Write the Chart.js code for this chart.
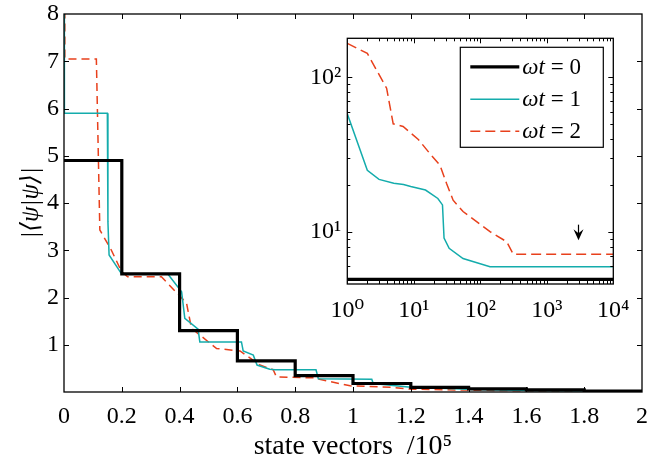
<!DOCTYPE html>
<html>
<head>
<meta charset="utf-8">
<script src="https://cdn.jsdelivr.net/npm/chart.js@4.4.0/dist/chart.umd.min.js"></script>
<style>
  html, body { margin: 0; padding: 0; background: #fff; }
  #wrap { position: relative; width: 653px; height: 461px; }
  #main { position: absolute; left: 0; top: 0; }
  #inset { position: absolute; left: 290px; top: 20px; }
</style>
</head>
<body>
<div id="wrap">
  <canvas id="main" width="653" height="461"></canvas>
  <canvas id="inset" width="345" height="305"></canvas>
</div>
<script>
// ---- main panel: x in units of 1e5 state vectors ----
const mainBlackX = [0, 0.2, 0.4, 0.6, 0.8, 1.0, 1.2, 1.4, 1.6, 1.8, 2.0];
const mainBlackY = [4.9, 2.5, 1.3, 0.66, 0.345, 0.18, 0.1, 0.065, 0.045, 0.02, 0.02];

const mainCyanX = [0, 0.0014, 0.150, 0.152, 0.156, 0.199, 0.36, 0.407, 0.418, 0.464, 0.47, 0.614, 0.62,
                   0.655, 0.668, 0.712, 0.73, 0.872, 0.88, 1.065, 1.07, 1.2, 1.4, 1.6, 2.0];
const mainCyanY = [58, 5.9, 5.9, 3.6, 2.9, 2.5, 2.49, 2.12, 1.56, 1.33, 1.06, 1.06, 0.87,
                   0.78, 0.57, 0.48, 0.47, 0.47, 0.28, 0.27, 0.18, 0.1, 0.06, 0.03, 0.015];

const mainRedX = [0, 0.003, 0.112, 0.124, 0.164, 0.199, 0.22, 0.337, 0.424, 0.441, 0.528, 0.609,
                  0.678, 0.724, 0.735, 0.862, 0.99, 1.13, 1.2, 1.4, 1.6, 1.775];
const mainRedY = [166, 7.05, 7.05, 3.43, 3.0, 2.55, 2.44, 2.44, 1.88, 1.35, 0.92, 0.87,
                  0.57, 0.47, 0.32, 0.3, 0.13, 0.1, 0.06, 0.04, 0.025, 0.02];

const mainXTicks = [0, 0.2, 0.4, 0.6, 0.8, 1, 1.2, 1.4, 1.6, 1.8, 2];
const mainYTicks = [1, 2, 3, 4, 5, 6, 7, 8];

// ---- inset: log-log, x in state vectors ----
const insetBlackX = [1, 10000];
const insetBlackY = [4.9, 4.9];

const insetCyanX = [1, 2, 3, 5, 7, 9, 15, 23, 27, 28.5, 34, 55, 140, 10000];
const insetCyanY = [58, 25, 21.8, 20.6, 20.2, 19.6, 18.6, 16.4, 14.9, 9.1, 7.8, 6.7, 5.93, 5.93];

const insetRedX = [1, 2, 3.9, 4.9, 6.9, 11.7, 17.5, 24.7, 31, 39, 55, 88, 140, 250, 313, 10000];
const insetRedY = [166, 143, 85, 50, 48, 39.6, 32, 27, 20.6, 16, 13.5, 11.6, 10, 8.6, 7.13, 7.13];

const insetXTicks = [1, 10, 100, 1000, 10000];
const insetYTicks = [10, 100];

const seriesLabels = ['ωt = 0', 'ωt = 1', 'ωt = 2'];
const BLACK = '#000000', CYAN = '#14acac', RED = '#e8401c';
const SERIF = '"Liberation Serif", "DejaVu Serif", serif';
const SUP = ['⁰', '¹', '²', '³', '⁴'];

const pts = (xs, ys) => xs.map((x, i) => ({ x, y: ys[i] }));

function minorLog(min, max) {
  const out = [];
  for (let d = Math.floor(Math.log10(min)); d <= Math.ceil(Math.log10(max)); d++)
    for (let m = 2; m <= 9; m++) {
      const v = m * Math.pow(10, d);
      if (v > min && v < max) out.push(v);
    }
  return out;
}

// inward tick marks on all four sides + box frame
const axesBox = {
  id: 'axesBox',
  afterDatasetsDraw(chart, args, o) {
    const { ctx, chartArea: a, scales: { x, y } } = chart;
    ctx.save();
    ctx.strokeStyle = '#000';
    ctx.lineWidth = 1;
    ctx.beginPath();
    const xt = (vals, len) => vals.forEach(v => {
      const px = Math.round(x.getPixelForValue(v)) + 0.5;
      ctx.moveTo(px, a.bottom); ctx.lineTo(px, a.bottom - len);
      ctx.moveTo(px, a.top); ctx.lineTo(px, a.top + len);
    });
    const yt = (vals, len) => vals.forEach(v => {
      const py = Math.round(y.getPixelForValue(v)) + 0.5;
      ctx.moveTo(a.left, py); ctx.lineTo(a.left + len, py);
      ctx.moveTo(a.right, py); ctx.lineTo(a.right - len, py);
    });
    xt(o.xMajor, o.len); yt(o.yMajor, o.len);
    if (o.xMinor) xt(o.xMinor, o.minorLen);
    if (o.yMinor) yt(o.yMinor, o.minorLen);
    ctx.stroke();
    ctx.lineWidth = 1.3;
    ctx.strokeRect(a.left, a.top, a.right - a.left, a.bottom - a.top);
    ctx.restore();
  }
};

const whiteArea = {
  id: 'whiteArea',
  beforeDraw(chart) {
    const { ctx, chartArea: a } = chart;
    ctx.save();
    ctx.fillStyle = '#fff';
    ctx.fillRect(a.left, a.top, a.right - a.left, a.bottom - a.top);
    ctx.restore();
  }
};

// legend box inside the inset, line samples taken from the datasets
const insetLegend = {
  id: 'insetLegend',
  afterDraw(chart) {
    const { ctx, chartArea: a } = chart;
    const w = 143, h = 100;
    const bx = a.right - 10 - w, by = a.top + 9;
    ctx.save();
    ctx.fillStyle = '#fff';
    ctx.fillRect(bx, by, w, h);
    ctx.strokeStyle = '#000'; ctx.lineWidth = 1.2;
    ctx.strokeRect(bx, by, w, h);
    const rows = [19.5, 52, 84];
    chart.data.datasets.forEach((ds, i) => {
      const yy = by + rows[i];
      ctx.strokeStyle = ds.borderColor;
      ctx.lineWidth = ds.borderWidth;
      ctx.setLineDash(ds.borderDash || []);
      ctx.beginPath();
      ctx.moveTo(bx + 10, yy); ctx.lineTo(bx + 59, yy);
      ctx.stroke();
      ctx.setLineDash([]);
      const [lhs, rhs] = ds.label.split(' = ');
      ctx.fillStyle = '#000';
      ctx.textBaseline = 'middle';
      ctx.font = 'italic 23px ' + SERIF;
      ctx.fillText(lhs, bx + 62, yy + 1);
      const lw = ctx.measureText(lhs).width;
      ctx.font = '23px ' + SERIF;
      ctx.fillText(' = ' + rhs, bx + 62 + lw, yy + 1);
    });
    ctx.restore();
  }
};

// small downward arrow marking a point on the inset
const arrowMark = {
  id: 'arrowMark',
  afterDatasetsDraw(chart, args, o) {
    if (!o || !o.x) return;
    const { ctx, scales: { x, y } } = chart;
    const px = Math.round(x.getPixelForValue(o.x)) + 0.5;
    const p0 = y.getPixelForValue(o.y0), p1 = y.getPixelForValue(o.y1);
    ctx.save();
    ctx.strokeStyle = '#000'; ctx.fillStyle = '#000'; ctx.lineWidth = 1.2;
    ctx.beginPath(); ctx.moveTo(px, p0); ctx.lineTo(px, p1 - 6); ctx.stroke();
    ctx.beginPath();
    ctx.moveTo(px - 5, p1 - 11); ctx.lineTo(px, p1); ctx.lineTo(px + 5, p1 - 11); ctx.lineTo(px, p1 - 7);
    ctx.closePath(); ctx.fill();
    ctx.restore();
  }
};

const tickFont = { family: SERIF, size: 24 };
// keep Chart.js from reserving extra room for overhanging end labels
const fitX = h => s => { s.height = h; s.paddingLeft = 0; s.paddingRight = 0; };
const fitY = w => s => { s.width = w; s.paddingTop = 0; s.paddingBottom = 0; };

new Chart(document.getElementById('main'), {
  type: 'line',
  data: {
    datasets: [
      { label: seriesLabels[0], data: pts(mainBlackX, mainBlackY), borderColor: BLACK, borderWidth: 3.2, stepped: true },
      { label: seriesLabels[1], data: pts(mainCyanX, mainCyanY), borderColor: CYAN, borderWidth: 1.5 },
      { label: seriesLabels[2], data: pts(mainRedX, mainRedY), borderColor: RED, borderWidth: 1.5, borderDash: [8, 5] }
    ]
  },
  options: {
    responsive: false, animation: false, devicePixelRatio: 1,
    elements: { point: { radius: 0 }, line: { tension: 0, fill: false } },
    layout: { padding: { top: 14, right: 11, left: 0, bottom: 0 } },
    plugins: {
      legend: { display: false }, tooltip: { enabled: false },
      axesBox: { xMajor: mainXTicks.slice(1, -1), yMajor: mainYTicks.slice(0, -1), len: 5 }
    },
    scales: {
      x: {
        type: 'linear', min: 0, max: 2,
        afterBuildTicks: s => { s.ticks = mainXTicks.map(v => ({ value: v })); },
        afterFit: fitX(69),
        grid: { display: false, drawTicks: false }, border: { display: false },
        ticks: { font: tickFont, color: '#000', padding: 10, maxRotation: 0, autoSkip: false,
                 callback: v => String(Math.round(v * 10) / 10) },
        title: { display: true, text: 'state vectors  /10⁵', font: { family: SERIF, size: 28, lineHeight: 1.0 },
                 color: '#000', padding: { top: 0, bottom: 0 } }
      },
      y: {
        type: 'linear', min: 0, max: 8,
        afterBuildTicks: s => { s.ticks = mainYTicks.map(v => ({ value: v })); },
        afterFit: fitY(64),
        grid: { display: false, drawTicks: false }, border: { display: false },
        ticks: { font: tickFont, color: '#000', padding: 5, autoSkip: false },
        title: { display: true, text: '|⟨ψ|ψ⟩|', font: { family: SERIF, size: 25, style: 'italic' }, color: '#000',
                 padding: { top: 16, bottom: 0 } }
      }
    }
  },
  plugins: [axesBox]
});

new Chart(document.getElementById('inset'), {
  type: 'line',
  data: {
    datasets: [
      { label: seriesLabels[0], data: pts(insetBlackX, insetBlackY), borderColor: BLACK, borderWidth: 3.2 },
      { label: seriesLabels[1], data: pts(insetCyanX, insetCyanY), borderColor: CYAN, borderWidth: 1.5 },
      { label: seriesLabels[2], data: pts(insetRedX, insetRedY), borderColor: RED, borderWidth: 1.5, borderDash: [10, 5] }
    ]
  },
  options: {
    responsive: false, animation: false, devicePixelRatio: 1,
    elements: { point: { radius: 0 }, line: { tension: 0, fill: false } },
    layout: { padding: { top: 18.3, right: 21.7, left: 0, bottom: 0 } },
    plugins: {
      legend: { display: false }, tooltip: { enabled: false },
      axesBox: { xMajor: insetXTicks.slice(1, -1), yMajor: insetYTicks, len: 5,
                 xMinor: minorLog(1, 10000), yMinor: minorLog(4.58, 179), minorLen: 3 },
      arrowMark: { x: 2900, y0: 11.1, y1: 8.8 }
    },
    scales: {
      x: {
        type: 'logarithmic', min: 1, max: 10000,
        afterBuildTicks: s => { s.ticks = insetXTicks.map(v => ({ value: v })); },
        afterFit: fitX(41),
        grid: { display: false, drawTicks: false }, border: { display: false },
        ticks: { font: tickFont, color: '#000', padding: 12, maxRotation: 0, autoSkip: false,
                 callback: v => '10' + SUP[Math.round(Math.log10(v))] }
      },
      y: {
        type: 'logarithmic', min: 4.58, max: 179,
        afterBuildTicks: s => { s.ticks = insetYTicks.map(v => ({ value: v })); },
        afterFit: fitY(57.3),
        grid: { display: false, drawTicks: false }, border: { display: false },
        ticks: { font: tickFont, color: '#000', padding: 6, autoSkip: false,
                 callback: v => '10' + SUP[Math.round(Math.log10(v))] }
      }
    }
  },
  plugins: [whiteArea, axesBox, arrowMark, insetLegend]
});
</script>
</body>
</html>
